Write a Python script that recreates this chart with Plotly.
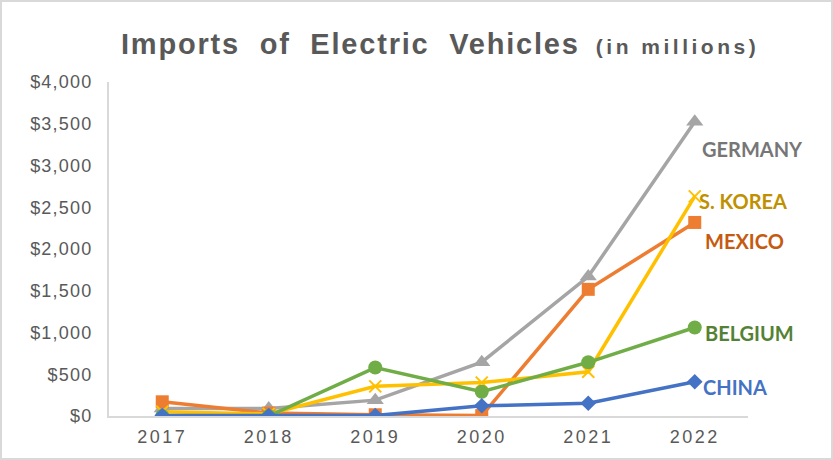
import plotly.graph_objects as go

years = ["2017", "2018", "2019", "2020", "2021", "2022"]

germany = [90, 90, 190, 645, 1670, 3525]
mexico = [170, 35, 15, 5, 1517, 2318]
s_korea = [50, 25, 355, 400, 530, 2630]
belgium = [0, 0, 580, 290, 643, 1060]
china = [5, 5, 5, 122, 152, 410]

y_ticks = [0, 500, 1000, 1500, 2000, 2500, 3000, 3500, 4000]
y_tick_labels = ["$0", "$500", "$1,000", "$1,500", "$2,000", "$2,500", "$3,000", "$3,500", "$4,000"]

series = [
    ("GERMANY", germany, "#A5A5A5", "triangle-up", 15, "#767676", 5, -27),
    ("MEXICO", mexico, "#ED7D31", "square", 13, "#C55A11", 8, -19),
    ("S. KOREA", s_korea, "#FFC000", "x-thin", 12, "#BF9000", 2, -5),
    ("BELGIUM", belgium, "#70AD47", "circle", 14, "#548235", 8, -6),
    ("CHINA", china, "#4472C4", "diamond", 12, "#4472C4", 6, -5),
]


def spaced(s, px):
    return "<span style='letter-spacing:%spx'>%s</span>" % (px, s)


W, H = 833, 460
L, R, T, B = 109, 85, 82, 44
pw, ph = W - L - R, H - T - B

fig = go.Figure()
annotations = []
last = len(years) - 1
for name, vals, color, sym, size, lcolor, xs, ys in series:
    fig.add_trace(go.Scatter(
        x=years, y=vals, mode="lines+markers", name=name,
        line=dict(color=color, width=3.5),
        marker=dict(symbol=sym, size=size, color=color,
                    line=dict(color=color, width=2 if sym == "x-thin" else 0)),
    ))
    annotations.append(dict(
        x=last, y=vals[-1], xref="x", yref="y", text="<b>%s</b>" % name,
        showarrow=False, xanchor="left", yanchor="middle", xshift=xs, yshift=ys,
        font=dict(family="Lato", size=20, color=lcolor),
    ))

title_text = (spaced("<b>Imports\u00a0\u00a0of\u00a0\u00a0Electric\u00a0\u00a0Vehicles</b>", 1.8)
              + "\u00a0\u00a0" + spaced("<b><span style='font-size:21px'>(in millions)</span></b>", 3.5))
annotations.append(dict(
    x=(440 - L) / pw, y=(H - 44 - B) / ph, xref="paper", yref="paper",
    text=title_text, showarrow=False, xanchor="center", yanchor="middle",
    font=dict(family="Liberation Sans", size=29, color="#595959"),
))

fig.update_layout(
    width=W, height=H,
    margin=dict(l=L, r=R, t=T, b=B),
    paper_bgcolor="white", plot_bgcolor="white",
    showlegend=False,
    annotations=annotations,
    xaxis=dict(
        type="category", range=[-0.5, 5.5], tickvals=years,
        ticktext=[spaced(y, 2.5) for y in years],
        showgrid=False, showline=True, linecolor="#D9D9D9", linewidth=2,
        ticks="", zeroline=False, ticklabelstandoff=3,
        tickfont=dict(family="Liberation Sans", size=18, color="#595959"),
    ),
    yaxis=dict(
        range=[0, 4000], tickvals=y_ticks, ticktext=[spaced(t, 1.2) for t in y_tick_labels],
        showgrid=False, showline=True, linecolor="#D9D9D9", linewidth=2,
        ticks="", zeroline=False, ticklabelstandoff=11,
        tickfont=dict(family="Liberation Sans", size=18, color="#595959"),
    ),
    shapes=[dict(
        type="rect", xref="paper", yref="paper",
        x0=(1 - L) / pw, x1=(W - 1 - L) / pw, y0=(1 - B) / ph, y1=(H - 1 - B) / ph,
        line=dict(color="#D9D9D9", width=2), fillcolor="rgba(0,0,0,0)", layer="below",
    )],
)

fig.write_html("out.html", post_script="document.body.style.margin='0';",
               config={"displayModeBar": False})
